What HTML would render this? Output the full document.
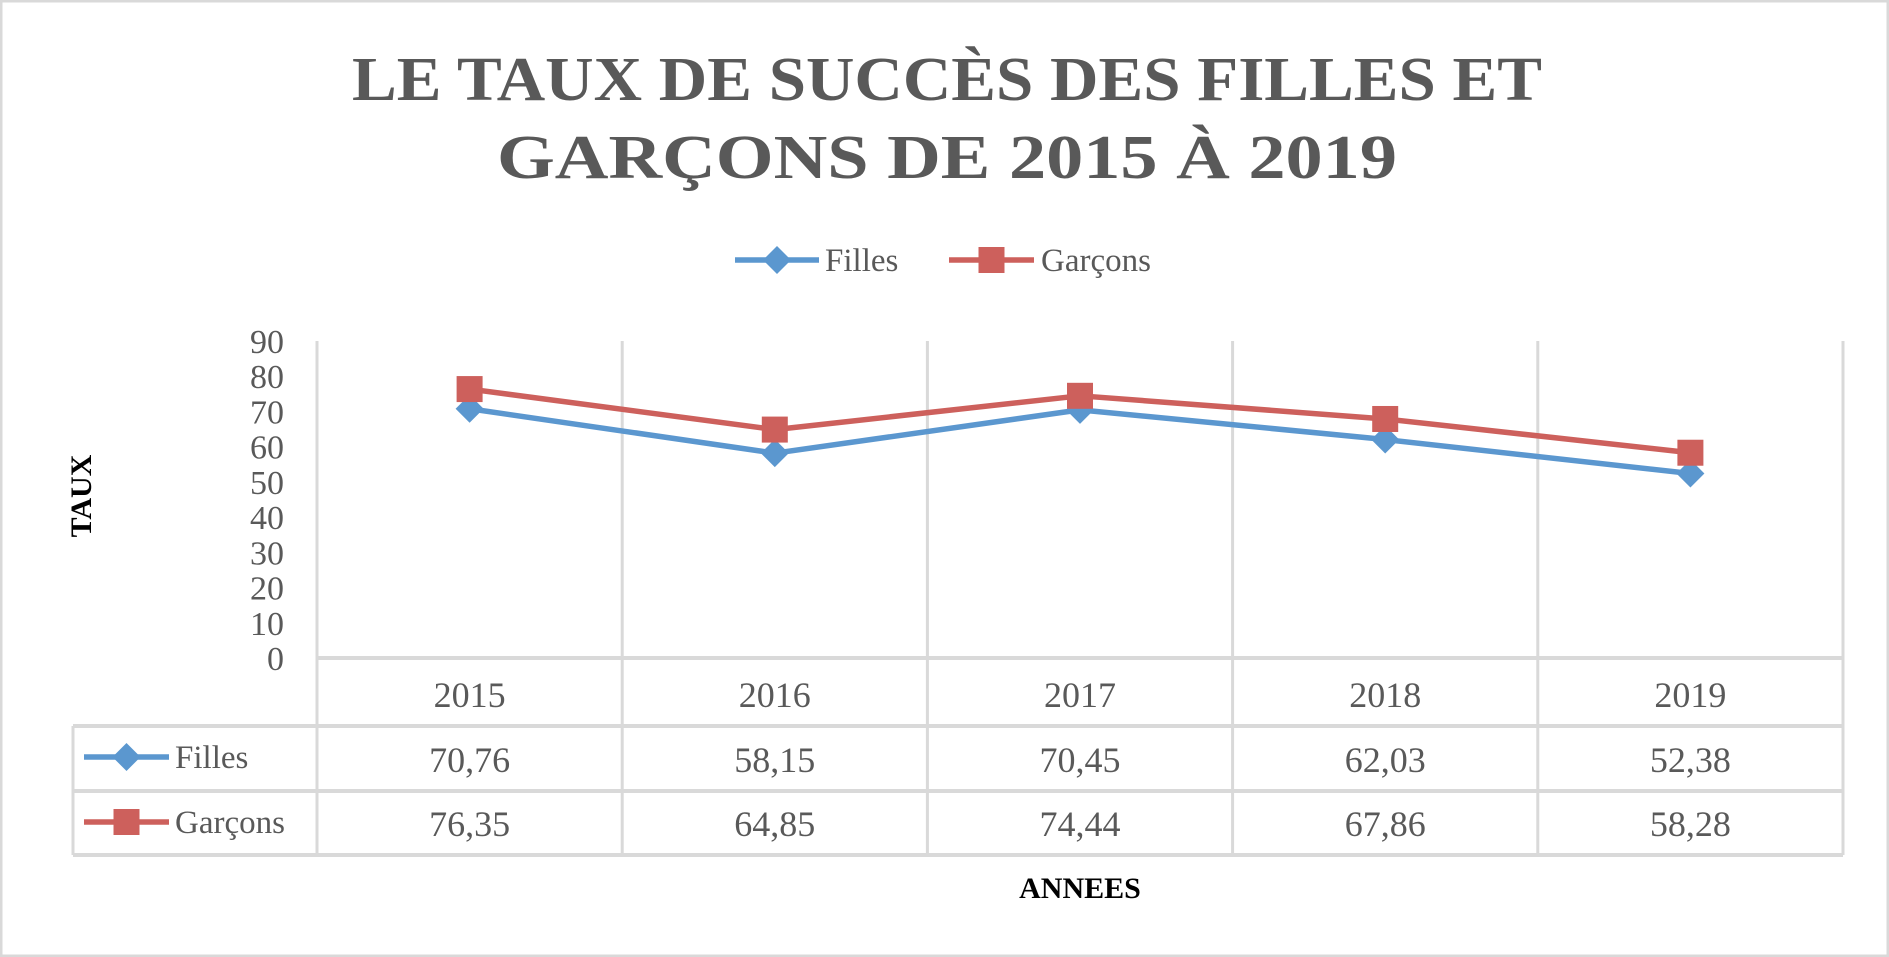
<!DOCTYPE html>
<html><head><meta charset="utf-8"><style>
html,body{margin:0;padding:0;background:#fff}
svg{display:block}
text{font-family:"Liberation Serif",serif}
</style></head><body>
<svg width="1889" height="957" viewBox="0 0 1889 957" xmlns="http://www.w3.org/2000/svg">
<rect x="1" y="1" width="1887" height="955" fill="#fff" stroke="#d9d9d9" stroke-width="3"/>
<g fill="#595959" font-weight="bold" font-size="62" text-anchor="middle">
<text x="947" y="100" textLength="1190" lengthAdjust="spacingAndGlyphs">LE TAUX DE SUCCÈS DES FILLES ET</text>
<text x="947" y="178" textLength="900" lengthAdjust="spacingAndGlyphs">GARÇONS DE 2015 À 2019</text>
</g>
<g id="legend"></g>
<g id="plot"></g>
<text transform="translate(91,496) rotate(-90)" text-anchor="middle" font-weight="bold" font-size="30" fill="#000">TAUX</text>
<text x="1080" y="898" text-anchor="middle" font-weight="bold" font-size="30" fill="#000">ANNEES</text>
</svg>
<script>
const categories=["2015","2016","2017","2018","2019"];
const filles=[70.76,58.15,70.45,62.03,52.38];
const garcons=[76.35,64.85,74.44,67.86,58.28];
const fillesLabels=["70,76","58,15","70,45","62,03","52,38"];
const garconsLabels=["76,35","64,85","74,44","67,86","58,28"];
const yTicks=[0,10,20,30,40,50,60,70,80,90];
const NS="http://www.w3.org/2000/svg";
const L=317,R=1843,T=341,B=658,yMax=90;
const cw=(R-L)/categories.length;
const xs=i=>L+cw*(i+0.5);
const ys=v=>B-v/yMax*(B-T);
const plot=document.getElementById('plot');
function mk(tag,a,parent){const e=document.createElementNS(NS,tag);for(const k in a)e.setAttribute(k,a[k]);(parent||plot).appendChild(e);return e;}
const grid="#d9d9d9";
// vertical gridlines + table verticals
for(let i=0;i<=categories.length;i++){
 const l=mk('line',{x1:L+cw*i,x2:L+cw*i,y1:T,y2:855,stroke:grid,'stroke-width':3});
 
 
}
// horizontal table lines
[[L,B],[73,726],[73,791],[73,855]].forEach(([x0,y])=>{
 const l=mk('line',{x1:x0,x2:R,y1:y,y2:y,stroke:grid,'stroke-width':4});
 
 
});
const lv=mk('line',{x1:73,x2:73,y1:726,y2:855,stroke:grid,'stroke-width':3});


// y ticks
yTicks.forEach(v=>{
 const t=mk('text',{x:284,y:ys(v)+12,'text-anchor':'end','font-size':34,fill:'#595959'});
 t.textContent=v;
 
 
});
// categories + values
categories.forEach((c,i)=>{
 const t=mk('text',{x:xs(i),y:707,'text-anchor':'middle','font-size':36,fill:'#595959'});
 t.textContent=c;
 
 
 const a=mk('text',{x:xs(i),y:772,'text-anchor':'middle','font-size':36,fill:'#595959'});
 a.textContent=fillesLabels[i];
 
 
 const b=mk('text',{x:xs(i),y:836,'text-anchor':'middle','font-size':36,fill:'#595959'});
 b.textContent=garconsLabels[i];
 
 
});
const BLUE="#5b97cf",RED="#cd605c";
function diamond(g,x,y,s,col){const p=mk('path',{d:`M${x},${y-s}L${x+s},${y}L${x},${y+s}L${x-s},${y}Z`,fill:col},g);return p;}
function square(g,x,y,s,col){return mk('rect',{x:x-s,y:y-s,width:2*s,height:2*s,fill:col},g);}
function series(vals,col,name,marker){
 const g=mk('g',{});
 
 
 const pl=mk('polyline',{points:vals.map((v,i)=>xs(i)+','+ys(v)).join(' '),fill:'none',stroke:col,'stroke-width':5.5,'stroke-linejoin':'round'},g);
 
 
 vals.forEach((v,i)=>{
  const m=marker(g,xs(i),ys(v),marker===square?13:14,col);
  
  
 });
}
series(filles,BLUE,'filles',diamond);
series(garcons,RED,'garcons',square);
// legend keys (top legend and table)
function key(parent,x0,x1,y,col,marker,label,tx,name){
 const g=mk('g',{},parent);
 
 
 mk('line',{x1:x0,x2:x1,y1:y,y2:y,stroke:col,'stroke-width':5.5},g);
 marker(g,(x0+x1)/2,y,marker===square?13:14,col);
 const t=mk('text',{x:tx,y:y+11,'font-size':33,fill:'#595959'},g);
 t.textContent=label;
}
const leg=document.getElementById('legend');
key(leg,735,819,260,BLUE,diamond,'Filles',825,'legend-entry-filles');
key(leg,949,1034,260,RED,square,'Garçons',1041,'legend-entry-garcons');
key(plot,84,169,757,BLUE,diamond,'Filles',175,'table-key-filles');
key(plot,84,169,822,RED,square,'Garçons',175,'table-key-garcons');
</script>
</body></html>
